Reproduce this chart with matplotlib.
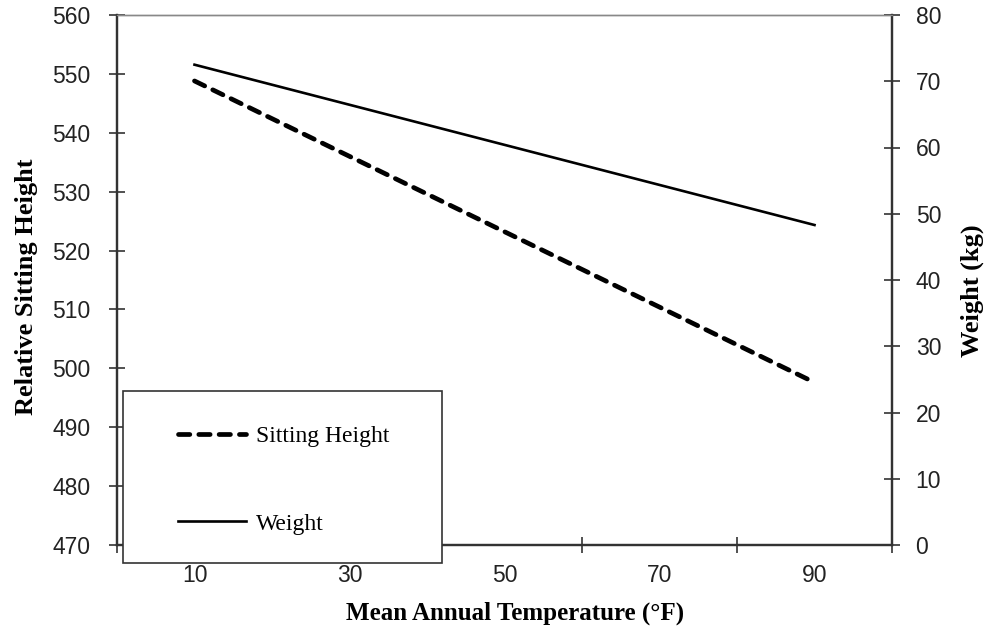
import matplotlib
matplotlib.use("Agg")
import matplotlib.pyplot as plt
from matplotlib.patches import Rectangle

# datos
temp = [10, 90]
sitting_height = [548.8, 497.6]
weight = [72.5, 48.3]

xtick_major = [0, 20, 40, 60, 80, 100]
xtick_labels = [10, 30, 50, 70, 90]
left_ticks = list(range(470, 561, 10))
right_ticks = list(range(0, 81, 10))

serif = "Liberation Serif"
sans = "Liberation Sans"
W, H = 986, 631

fig = plt.figure(figsize=(9.86, 6.31), dpi=100)
ax = fig.add_axes([117 / W, 86 / H, 775 / W, 530 / H])
ax2 = ax.twinx()

ax.plot(temp, sitting_height, color="black", lw=3.4, ls=(0, (2.4, 1.9)),
        dash_capstyle="round", label="Sitting Height")
ax2.plot(temp, weight, color="black", lw=1.9, label="Weight")

ax.set_xlim(0, 100)
ax.set_ylim(470, 560)
ax2.set_ylim(0, 80)

# marcas mayores sin texto, etiquetas en las menores (estilo Excel)
ax.set_xticks(xtick_major)
ax.set_xticklabels([])
ax.set_xticks(xtick_labels, minor=True)
ax.set_xticklabels([str(v) for v in xtick_labels], minor=True, fontfamily=sans, fontsize=16.5, color="#222222")
ax.tick_params(axis="x", which="minor", length=0, pad=13.5)
ax.tick_params(axis="x", which="major", direction="inout", length=12, width=1.2, color="#333333")

ax.set_yticks(left_ticks)
ax.set_yticklabels([str(v) for v in left_ticks], fontfamily=sans, fontsize=16.5, color="#222222")
ax.tick_params(axis="y", direction="inout", length=12, width=1.2, pad=13, color="#333333")
ax2.set_yticks(right_ticks)
ax2.set_yticklabels([str(v) for v in right_ticks], fontfamily=sans, fontsize=16.5, color="#222222")
ax2.tick_params(axis="y", direction="inout", length=12, width=1.2, pad=11, color="#333333")

for a in (ax, ax2):
    a.spines["top"].set_color("#888888")
    a.spines["top"].set_linewidth(1)
    for s in ("left", "right", "bottom"):
        a.spines[s].set_color("#333333")
        a.spines[s].set_linewidth(1.6)

ax.set_xlabel("Mean Annual Temperature (°F)", fontfamily=serif, fontweight="bold", fontsize=18)
ax.xaxis.set_label_coords((515 - 117) / 775, -(613 - 545) / 530)
ax.xaxis.label.set_va("center")
ax.set_ylabel("Relative Sitting Height", fontfamily=serif, fontweight="bold", fontsize=19)
ax.yaxis.set_label_coords((27 - 117) / 775, (545 - 287) / 530)
ax.yaxis.label.set_va("center")
ax2.set_ylabel("Weight (kg)", fontfamily=serif, fontweight="bold", fontsize=19)
ax2.yaxis.set_label_coords((972 - 117) / 775, (545 - 291) / 530)
ax2.yaxis.label.set_va("center")

# caja de la leyenda, tapa parte del eje inferior
box = Rectangle((123 / W, 1 - 563 / H), (442 - 123) / W, (563 - 391) / H,
                transform=fig.transFigure, facecolor="white",
                edgecolor="#333333", lw=1.2, zorder=5)
fig.patches.append(box)

h1, l1 = ax.get_legend_handles_labels()
h2, l2 = ax2.get_legend_handles_labels()
leg = fig.legend(h1 + h2, l1 + l2, loc="center left",
                 bbox_to_anchor=(178 / W, 1 - 480 / H),
                 bbox_transform=fig.transFigure,
                 prop={"family": serif, "size": 17}, frameon=False,
                 handlelength=2.9, labelspacing=2.8, borderpad=0,
                 borderaxespad=0, handletextpad=0.42)
leg.set_zorder(6)

fig.savefig("out.png", dpi=100)
